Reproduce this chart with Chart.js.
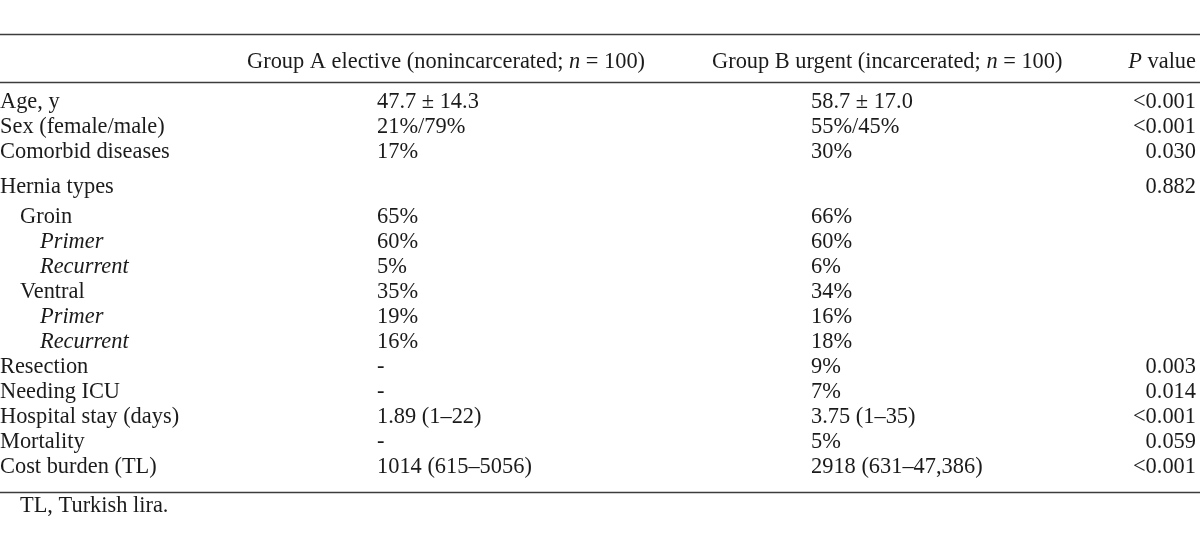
<!DOCTYPE html>
<html><head><meta charset="utf-8">
<script src="https://cdn.jsdelivr.net/npm/chart.js@4.4.0/dist/chart.umd.min.js"></script>
<style>html,body{margin:0;padding:0;background:#fff}canvas{display:block}</style>
</head><body>
<canvas id="c" width="1200" height="546"></canvas>
<script>
// ---- table content ----
const rowLabels = ['Age, y','Sex (female/male)','Comorbid diseases','Hernia types','Groin','Primer','Recurrent','Ventral','Primer','Recurrent','Resection','Needing ICU','Hospital stay (days)','Mortality','Cost burden (TL)'];
const rowLevel  = [0,0,0,0,1,2,2,1,2,2,0,0,0,0,0];
const groupA  = ['47.7 \u00b1 14.3','21%/79%','17%','','65%','60%','5%','35%','19%','16%','-','-','1.89 (1\u201322)','-','1014 (615\u20135056)'];
const groupB  = ['58.7 \u00b1 17.0','55%/45%','30%','','66%','60%','6%','34%','16%','18%','9%','7%','3.75 (1\u201335)','5%','2918 (631\u201347,386)'];
const pValues = ['<0.001','<0.001','0.030','0.882','','','','','','','0.003','0.014','<0.001','0.059','<0.001'];
const headerA = [['Group A elective (nonincarcerated; ',0],['n',1],[' = 100)',0]];
const headerB = [['Group B urgent (incarcerated; ',0],['n',1],[' = 100)',0]];
const headerP = [['P',1],[' value',0]];
const footnote = 'TL, Turkish lira.';

// ---- layout (code, not data) ----
const FONT = 'Liberation Serif';
const FS = 22.4;
const ROW_PX = 25;
const FIRST_BASE = 108;
const COL = {label:0, a:377, b:811, p:1196};
const HEAD = {a:247, b:712, p:1196};
const INDENT = 20;
function rowPos(i){ // extra spacing before group header / its first child, in row units
  let off = 0;
  if (i >= 3) off += 10/ROW_PX;
  if (i >= 4) off += 4.5/ROW_PX;
  return i + off;
}
const H = 546;
const yMin = -FIRST_BASE/ROW_PX, yMax = (H-FIRST_BASE)/ROW_PX;

function mk(col, vals){ return vals.map((v,i)=>({x:col, y:rowPos(i)})); }

const textColor = '#1b1b1b';
const ruleColor = '#3c3c3c';

function font(it){ return (it?'italic ':'') + FS + 'px "' + FONT + '"'; }
function runs(ctx, parts, x, y, align){
  let total = 0;
  parts.forEach(p=>{ ctx.font = font(p[1]); total += ctx.measureText(p[0]).width; });
  let cx = align==='right' ? x-total : x;
  ctx.textAlign = 'left';
  parts.forEach(p=>{ ctx.font = font(p[1]); ctx.fillText(p[0], cx, y); cx += ctx.measureText(p[0]).width; });
}

const tablePlugin = {
  id:'tablePlugin',
  afterDatasetsDraw(chart){
    const ctx = chart.ctx, ys = chart.scales.y, xs = chart.scales.x;
    ctx.save();
    ctx.fillStyle = textColor;
    ctx.textBaseline = 'alphabetic';
    // rules
    const rule = (yv)=>{ const y = Math.round(yv)+0.5; ctx.strokeStyle = ruleColor; ctx.lineWidth = 1.6; ctx.beginPath(); ctx.moveTo(xs.left,y); ctx.lineTo(xs.right,y); ctx.stroke(); };
    rule(ys.getPixelForValue(-2.96));
    rule(ys.getPixelForValue(-1.04));
    const lastY = ys.getPixelForValue(rowPos(rowLabels.length-1));
    rule(lastY + 20);
    // header
    const hy = ys.getPixelForValue(-1.6);
    runs(ctx, headerA, xs.getPixelForValue(HEAD.a), hy, 'left');
    runs(ctx, headerB, xs.getPixelForValue(HEAD.b), hy, 'left');
    runs(ctx, headerP, xs.getPixelForValue(HEAD.p), hy, 'right');
    // cells
    const cols = [rowLabels, groupA, groupB, pValues];
    cols.forEach((vals, d)=>{
      const meta = chart.getDatasetMeta(d);
      meta.data.forEach((el, i)=>{
        const t = vals[i]; if (!t) return;
        if (d === 0) {
          ctx.font = font(rowLevel[i] === 2);
          ctx.textAlign = 'left';
          ctx.fillText(t, el.x + rowLevel[i]*INDENT, el.y);
        } else if (d === 3) {
          ctx.font = font(false); ctx.textAlign = 'right'; ctx.fillText(t, el.x, el.y);
        } else {
          ctx.font = font(false); ctx.textAlign = 'left'; ctx.fillText(t, el.x, el.y);
        }
      });
    });
    // footnote
    ctx.font = font(false); ctx.textAlign = 'left';
    ctx.fillText(footnote, xs.getPixelForValue(INDENT), lastY + 39);
    ctx.restore();
  }
};

new Chart(document.getElementById('c'), {
  type:'scatter',
  data:{ datasets:[
    {label:'label', data:mk(COL.label,rowLabels), pointRadius:0},
    {label:'A', data:mk(COL.a,groupA), pointRadius:0},
    {label:'B', data:mk(COL.b,groupB), pointRadius:0},
    {label:'P', data:mk(COL.p,pValues), pointRadius:0}
  ]},
  options:{
    responsive:false, animation:false,
    layout:{padding:0},
    plugins:{legend:{display:false}, tooltip:{enabled:false}},
    scales:{
      x:{type:'linear', min:0, max:1200, display:false},
      y:{type:'linear', min:yMin, max:yMax, reverse:true, display:false}
    }
  },
  plugins:[tablePlugin]
});
</script>
</body></html>
